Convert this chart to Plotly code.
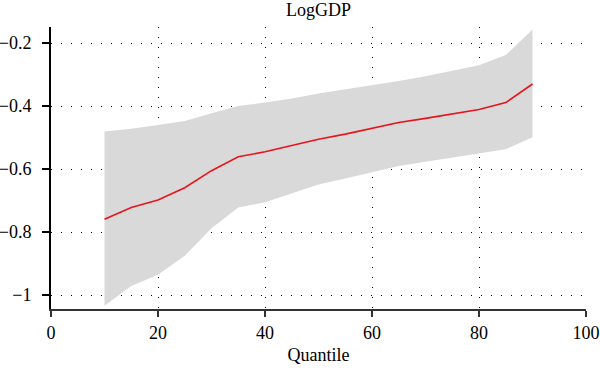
import plotly.graph_objects as go

quantile = [10, 15, 20, 25, 30, 35, 40, 45, 50, 55, 60, 65, 70, 75, 80, 85, 90]
estimate = [-0.759, -0.722, -0.698, -0.659, -0.605, -0.561, -0.545, -0.526, -0.505,
            -0.489, -0.470, -0.452, -0.439, -0.426, -0.411, -0.389, -0.330]
upper = [-0.481, -0.472, -0.460, -0.447, -0.423, -0.400, -0.389, -0.376, -0.360,
         -0.347, -0.333, -0.320, -0.305, -0.288, -0.270, -0.238, -0.157]
lower = [-1.034, -0.971, -0.935, -0.875, -0.788, -0.722, -0.705, -0.677, -0.649,
         -0.630, -0.609, -0.590, -0.577, -0.564, -0.550, -0.537, -0.499]

x_ticks = [0, 20, 40, 60, 80, 100]
y_ticks = [-1, -0.8, -0.6, -0.4, -0.2]
y_ticktext = ["\u22121", "\u22120.8", "\u22120.6", "\u22120.4", "\u22120.2"]

font_family = "Liberation Serif, DejaVu Serif, serif"

fig = go.Figure()
fig.add_trace(go.Scatter(x=quantile, y=upper, mode="lines", line=dict(width=0),
                         hoverinfo="skip", showlegend=False))
fig.add_trace(go.Scatter(x=quantile, y=lower, mode="lines", line=dict(width=0),
                         fill="tonexty", fillcolor="#d9d9d9",
                         hoverinfo="skip", showlegend=False))
fig.add_trace(go.Scatter(x=quantile, y=estimate, mode="lines",
                         line=dict(color="#e8141c", width=1.6), showlegend=False))

fig.update_layout(
    width=600, height=372,
    margin=dict(l=51, r=14, t=27, b=63),
    paper_bgcolor="white", plot_bgcolor="white",
    font=dict(family=font_family, size=18, color="black"),
    title=dict(text="LogGDP", x=0.5, xref="paper", xanchor="center",
               y=0.975, yref="container", yanchor="middle",
               font=dict(family=font_family, size=18, color="black")),
)
fig.update_xaxes(
    range=[0, 100], tickvals=x_ticks, ticks="outside", ticklen=6, tickwidth=1.5,
    tickcolor="#333333", showline=True, linecolor="#333333", linewidth=2,
    showgrid=True, gridcolor="black", gridwidth=1, griddash="1px,9px",
    zeroline=False, tickfont=dict(size=18), automargin=False,
    title=dict(text="Quantile", font=dict(size=18), standoff=7),
)
fig.update_yaxes(
    range=[-1.044, -0.149], tickvals=y_ticks, ticktext=y_ticktext,
    ticks="outside", ticklen=7, tickwidth=1.5, tickcolor="black",
    showline=True, linecolor="black", linewidth=2,
    showgrid=True, gridcolor="black", gridwidth=1, griddash="1px,9px",
    zeroline=False, tickfont=dict(size=18), automargin=False,
    ticklabelstandoff=7,
)

fig.write_html("out.html", config={"displayModeBar": False},
               post_script="document.body.style.margin='0';")
